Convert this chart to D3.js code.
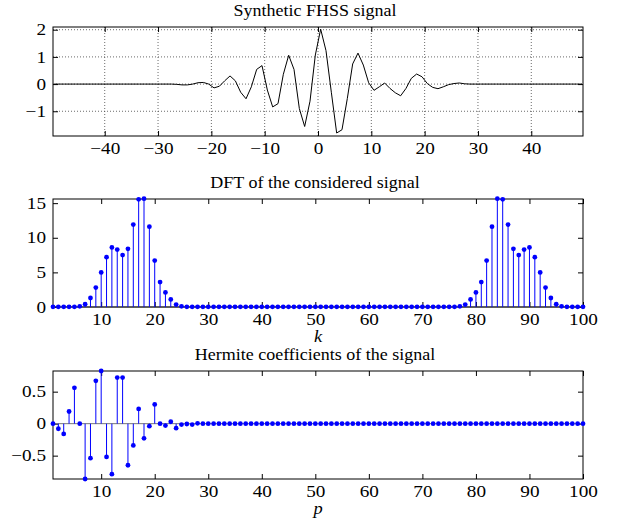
<!DOCTYPE html>
<html>
<head>
<meta charset="utf-8">
<script src="https://d3js.org/d3.v7.min.js"></script>
<style>
  body { margin: 0; background: #fff; }
  text { font-family: "Liberation Serif", "Times New Roman", serif; fill: #000; }
</style>
</head>
<body>
<div id="chart"></div>
<script>
// synthetic FHSS signal, sampled at t = -49.5 ... 49.5
var signal = [
  0, 0, 0, 0, 0, 0, 0, 0, 0, 0, 0, 0, 0, 0, 0, 0, 0, 0, 0, 0, 0, 0,
  0, -0.01, -0.03, -0.03, 0.0, 0.05, 0.06, 0.0, -0.14, -0.08,
  0.12, 0.3, 0.12, -0.3, -0.54, -0.1, 0.54, 0.68, -0.22, -0.84,
  -0.72, 0.36, 1.06, 0.54, -0.9, -1.56, -0.63, 1.07, 2.02, 1.23,
  -0.3, -1.8, -1.68, -0.53, 0.74, 1.14, 0.7, 0.05, -0.23, -0.1,
  0.04, -0.16, -0.32, -0.43, -0.16, 0.21, 0.37, 0.27, 0.02, -0.12,
  -0.17, -0.1, -0.02, 0.02, 0.04, 0.01,
  0, 0, 0, 0, 0, 0, 0, 0, 0, 0, 0, 0, 0, 0, 0, 0, 0, 0, 0, 0, 0, 0
];
var signalXTicks = [-40, -30, -20, -10, 0, 10, 20, 30, 40];
var signalYTicks = [-1, 0, 1, 2];

// |DFT|, k = 1 ... 100
var dft = [
  0.02, 0.02, 0.02, 0.02, 0.03, 0.1, 0.4, 1.3, 2.8, 5.0,
  7.2, 8.6, 8.3, 7.5, 8.4, 11.9, 15.55, 15.65, 11.6, 6.7,
  3.6, 2.1, 1.1, 0.35, 0.1, 0.02, 0.02, 0.02, 0.02, 0.02,
  0.02, 0.02, 0.02, 0.02, 0.02, 0.02, 0.02, 0.02, 0.02, 0.02,
  0.02, 0.02, 0.02, 0.02, 0.02, 0.02, 0.02, 0.02, 0.02, 0.02,
  0.02, 0.02, 0.02, 0.02, 0.02, 0.02, 0.02, 0.02, 0.02, 0.02,
  0.02, 0.02, 0.02, 0.02, 0.02, 0.02, 0.02, 0.02, 0.02, 0.02,
  0.02, 0.02, 0.02, 0.02, 0.02, 0.02, 0.1, 0.35, 1.1, 2.1,
  3.6, 6.7, 11.6, 15.65, 15.55, 11.9, 8.4, 7.5, 8.3, 8.6,
  7.2, 5.0, 2.8, 1.3, 0.4, 0.1, 0.03, 0.02, 0.02, 0.02
];
var dftYTicks = [0, 5, 10, 15];

// Hermite coefficients, p = 1 ... 100
var hermite = [
  0.0, -0.08, -0.16, 0.19, 0.56, 0.0, -0.865, -0.54, 0.67, 0.823,
  -0.52, -0.79, 0.72, 0.72, -0.65, -0.34, 0.23, -0.23, -0.04, 0.30,
  0.0, -0.03, 0.03, -0.07, -0.015, -0.005, -0.015, 0.005, 0, 0,
  0, 0, 0, 0, 0, 0, 0, 0, 0, 0,
  0, 0, 0, 0, 0, 0, 0, 0, 0, 0,
  0, 0, 0, 0, 0, 0, 0, 0, 0, 0,
  0, 0, 0, 0, 0, 0, 0, 0, 0, 0,
  0, 0, 0, 0, 0, 0, 0, 0, 0, 0,
  0, 0, 0, 0, 0, 0, 0, 0, 0, 0,
  0, 0, 0, 0, 0, 0, 0, 0, 0, 0
];
var hermiteYTicks = [-0.5, 0, 0.5];

var indexTicks = [10, 20, 30, 40, 50, 60, 70, 80, 90, 100];

var W = 617, H = 520;
var left = 53, right = 583;
var tick = 5, fs = 16;

var svg = d3.select("#chart").append("svg")
    .attr("width", W)
    .attr("height", H);
svg.append("rect").attr("width", W).attr("height", H).attr("fill", "#fff");

var fmt = function(d) {
  return d === 0 ? "0" : d3.format("")(d);
};

// the reference text is a bit wider than Times at the same height
function widen(sel, k) {
  sel.each(function() {
    var w = this.getComputedTextLength();
    if (w > 0) {
      d3.select(this).attr("textLength", w * k).attr("lengthAdjust", "spacingAndGlyphs");
    }
  });
}

// one MATLAB-ish axes box with inward ticks on all four sides
function panel(top, bottom, xDomain, yDomain, xTicks, yTicks, title, xlabel, grid) {
  var x = d3.scaleLinear().domain(xDomain).range([left, right]);
  var y = d3.scaleLinear().domain(yDomain).range([bottom, top]);
  var g = svg.append("g");

  if (grid) {
    g.selectAll(".gx").data(xTicks).enter().append("line")
      .attr("x1", x).attr("x2", x).attr("y1", top).attr("y2", bottom)
      .attr("stroke", "#444").attr("stroke-width", 0.8)
      .attr("stroke-dasharray", "1,2");
    g.selectAll(".gy").data(yTicks).enter().append("line")
      .attr("x1", left).attr("x2", right).attr("y1", y).attr("y2", y)
      .attr("stroke", "#444").attr("stroke-width", 0.8)
      .attr("stroke-dasharray", "1,2");
  }

  var ax = [
    { a: d3.axisBottom(x).tickValues(xTicks).tickFormat(fmt), t: "translate(0," + bottom + ")" },
    { a: d3.axisTop(x).tickValues(xTicks).tickFormat(""), t: "translate(0," + top + ")" },
    { a: d3.axisLeft(y).tickValues(yTicks).tickFormat(fmt), t: "translate(" + left + ",0)" },
    { a: d3.axisRight(y).tickValues(yTicks).tickFormat(""), t: "translate(" + right + ",0)" }
  ];
  ax.forEach(function(o) {
    var s = g.append("g").attr("transform", o.t)
      .call(o.a.tickSizeInner(-tick).tickSizeOuter(0).tickPadding(7));
    s.select(".domain").remove();
    s.selectAll("line").attr("stroke", "#000");
    s.selectAll("text").attr("font-size", fs)
      .attr("font-family", "Liberation Serif, Times New Roman, serif");
    widen(s.selectAll("text"), 1.2);
  });

  var tl = g.append("text")
    .attr("x", (left + right) / 2 - 3).attr("y", top - 11)
    .attr("text-anchor", "middle").attr("font-size", 16.5)
    .text(title);
  widen(tl, 1.09);

  if (xlabel) {
    var xl = g.append("text")
      .attr("x", (left + right) / 2).attr("y", bottom + 35)
      .attr("text-anchor", "middle").attr("font-size", 16)
      .attr("font-style", "italic")
      .text(xlabel);
    widen(xl, 1.15);
  }

  var plot = g.append("g");
  g.append("rect")
    .attr("x", left).attr("y", top)
    .attr("width", right - left).attr("height", bottom - top)
    .attr("fill", "none").attr("stroke", "#000").attr("stroke-width", 1);
  return { x: x, y: y, plot: plot, g: g };
}

function stems(p, values) {
  var k = values.map(function(v, i) { return i + 1; });
  p.plot.append("line")
    .attr("x1", p.x(1)).attr("x2", p.x(values.length))
    .attr("y1", p.y(0)).attr("y2", p.y(0))
    .attr("stroke", "#777").attr("stroke-width", 1);
  p.g.selectAll(".stem").data(values).enter().append("line")
    .attr("x1", function(d, i) { return p.x(k[i]); })
    .attr("x2", function(d, i) { return p.x(k[i]); })
    .attr("y1", p.y(0))
    .attr("y2", function(d) { return p.y(d); })
    .attr("stroke", "#0000ff").attr("stroke-width", 1);
  p.g.selectAll(".dot").data(values).enter().append("circle")
    .attr("cx", function(d, i) { return p.x(k[i]); })
    .attr("cy", function(d) { return p.y(d); })
    .attr("r", 2.4)
    .attr("fill", "#0000ff");
}

// top: the signal
var p1 = panel(27, 136, [-49.7, 49.7], [-1.91, 2.1], signalXTicks, signalYTicks,
  "Synthetic FHSS signal", null, true);
var tt = signal.map(function(v, i) { return i - 49.5; });
var line = d3.line()
  .x(function(d, i) { return p1.x(tt[i]); })
  .y(function(d) { return p1.y(d); });
p1.plot.append("path")
  .datum(signal)
  .attr("d", line)
  .attr("fill", "none")
  .attr("stroke", "#000")
  .attr("stroke-width", 1);

// middle: DFT
var p2 = panel(199, 307, [1, 100], [0, 15.6], indexTicks, dftYTicks,
  "DFT of the considered signal", "k", false);
stems(p2, dft);

// bottom: Hermite coefficients
var p3 = panel(371, 479, [1, 100], [-0.865, 0.823], indexTicks, hermiteYTicks,
  "Hermite coefficients of the signal", "p", false);
stems(p3, hermite);
</script>
</body>
</html>
